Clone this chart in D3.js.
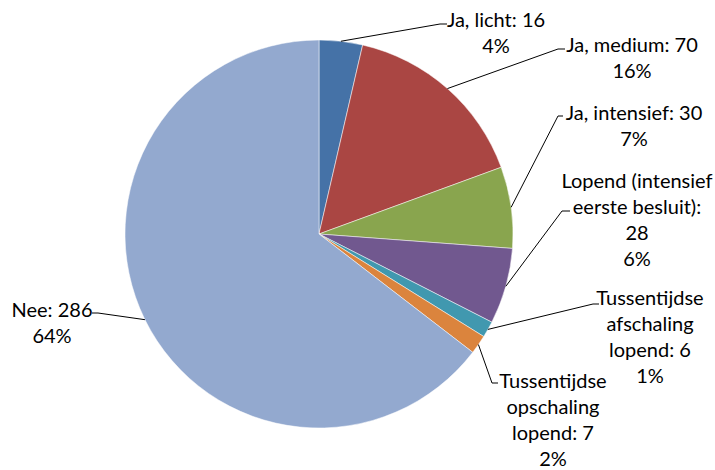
<!DOCTYPE html>
<html>
<head>
<meta charset="utf-8">
<script src="https://cdn.jsdelivr.net/npm/d3@7"></script>
<style>
  body { margin: 0; background: #fff; }
  text { font-family: Lato, "Open Sans", sans-serif; fill: #000; }
</style>
</head>
<body>
<div id="chart"></div>
<script>
// data
const categories = ["Ja, licht", "Ja, medium", "Ja, intensief", "Lopend (intensief eerste besluit)",
    "Tussentijdse afschaling lopend", "Tussentijdse opschaling lopend", "Nee"];
const values = [16, 70, 30, 28, 6, 7, 286];
const percents = [4, 16, 7, 6, 1, 2, 64];
const colors = ["#4572A7", "#AA4643", "#89A54E", "#71588F", "#4198AF", "#DB843D", "#93A9CF"];

// label layout: words per line, label centre, leader elbow/end
const labelLayout = [
    { words: [3], x: 496, y: 20, elbow: [440, 24], end: [447, 24] },
    { words: [3], x: 632, y: 45, elbow: [558, 49], end: [565, 49] },
    { words: [3], x: 634, y: 113, elbow: [558, 116], end: [563, 116] },
    { words: [2, 2, 1], x: 637, y: 181, elbow: [562, 211], end: [570, 211] },
    { words: [1, 1, 2], x: 650, y: 298, elbow: [593, 304], end: [599, 304] },
    { words: [1, 1, 2], x: 553, y: 381, elbow: [492, 383], end: [498, 383] },
    { words: [2], x: 52, y: 310, elbow: [98, 313], end: [92, 313] }
];

const width = 715, height = 470;
const cx = 319, cy = 234, radius = 194;
const lineH = 26;

const svg = d3.select("#chart").append("svg")
    .attr("width", width)
    .attr("height", height);

const data = categories.map((c, i) => ({ name: c, value: values[i], pct: percents[i], i: i }));

const pie = d3.pie().value(d => d.value).sort(null);
const arc = d3.arc().innerRadius(0).outerRadius(radius);
const arcs = pie(data);

const g = svg.append("g").attr("transform", `translate(${cx},${cy})`);

g.selectAll("path.slice")
    .data(arcs)
    .enter().append("path")
    .attr("class", "slice")
    .attr("d", arc)
    .style("fill", d => colors[d.data.i])
    .style("stroke", "#fff")
    .style("stroke-width", 0.5);

// leader lines
arcs.forEach(a => {
    const L = labelLayout[a.data.i];
    const mid = (a.startAngle + a.endAngle) / 2;
    const p0 = [cx + radius * Math.sin(mid), cy - radius * Math.cos(mid)];
    svg.append("path")
        .attr("d", d3.line()([p0, L.elbow, L.end]))
        .style("fill", "none")
        .style("stroke", "#000")
        .style("stroke-width", 1);
});

// labels
arcs.forEach(a => {
    const L = labelLayout[a.data.i];
    const words = (a.data.name + ": " + a.data.value).split(" ");
    const lines = [];
    let k = 0;
    L.words.forEach(n => { lines.push(words.slice(k, k + n).join(" ")); k += n; });
    if (k < words.length) lines.push(words.slice(k).join(" "));
    lines.push(a.data.pct + "%");

    const t = svg.append("text")
        .attr("text-anchor", "middle")
        .style("font-size", "20px");
    lines.forEach((s, j) => {
        t.append("tspan")
            .attr("x", L.x)
            .attr("y", L.y + j * lineH)
            .attr("dy", "0.35em")
            .text(s);
    });
});
</script>
</body>
</html>
